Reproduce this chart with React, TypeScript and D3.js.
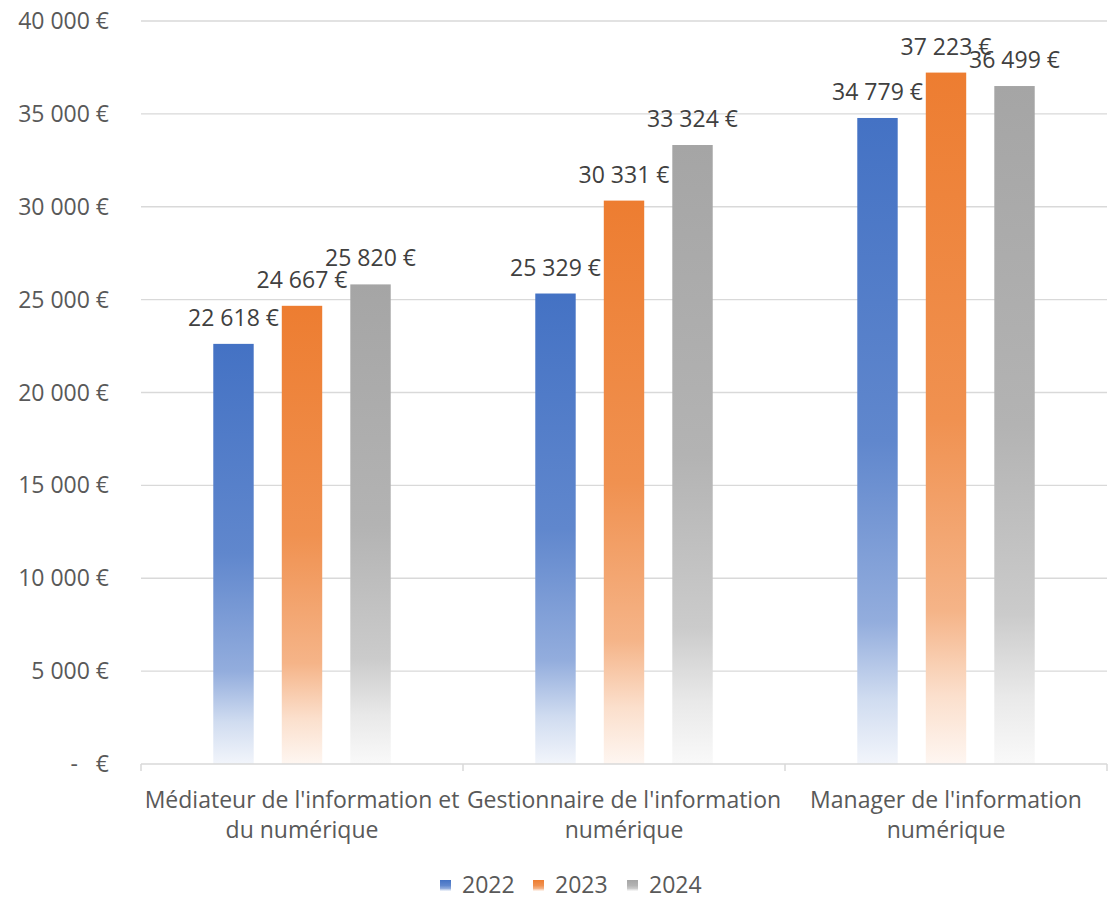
import React from "react";
import * as d3 from "d3";

const categories = [
  "Médiateur de l'information et du numérique",
  "Gestionnaire de l'information numérique",
  "Manager de l'information numérique",
];
const categoryLines = [
  ["Médiateur de l'information et", "du numérique"],
  ["Gestionnaire de l'information", "numérique"],
  ["Manager de l'information", "numérique"],
];
const years = ["2022", "2023", "2024"];
const values2022 = [22618, 25329, 34779];
const values2023 = [24667, 30331, 37223];
const values2024 = [25820, 33324, 36499];
const yTicks = [0, 5000, 10000, 15000, 20000, 25000, 30000, 35000, 40000];
const colors = ["#4472C4", "#ED7D31", "#A5A5A5"];

const series = [values2022, values2023, values2024];

const fr = d3.formatLocale({ decimal: ",", thousands: " ", grouping: [3], currency: ["", " €"] });
const fmt = fr.format(",.0f");
const money = (v: number) => (v === 0 ? "-   €" : fmt(v) + " €");

export default function App() {
  const W = 1113, H = 899;
  const left = 141, right = 1107, top = 21, bottom = 764;
  const y = d3.scaleLinear().domain([0, 40000]).range([bottom, top]);
  const x0 = d3.scaleBand().domain(categories).range([left, right]).paddingInner(0).paddingOuter(0);
  const x1 = d3.scaleBand().domain(years).range([0, x0.bandwidth()]).paddingInner(0.41).paddingOuter(1.055);
  const font = "'Open Sans', 'Noto Sans', sans-serif";
  const fs = 23;
  const legendX = [440, 533, 627];

  return (
    <svg width={W} height={H} style={{ position: "absolute", left: 0, top: 0, background: "#fff" }}>
      <defs>
        {colors.map((c, i) => {
          const white = d3.interpolateRgb(c, "#ffffff");
          return (
            <linearGradient key={i} id={`g${i}`} x1="0" y1="0" x2="0" y2="1">
              <stop offset="0" stopColor={c} />
              <stop offset="0.5" stopColor={white(0.15)} />
              <stop offset="0.78" stopColor={white(0.42)} />
              <stop offset="0.9" stopColor={white(0.75)} />
              <stop offset="1" stopColor={white(0.93)} />
            </linearGradient>
          );
        })}
      </defs>
      {yTicks.map((t) => (
        <g key={t}>
          {t > 0 && <line x1={left} x2={right} y1={y(t)} y2={y(t)} stroke="#D9D9D9" strokeWidth={1.3} />}
          <text x={109} y={y(t)} dy="0.35em" textAnchor="end" fontFamily={font} fontSize={fs} fill="#595959" style={{ whiteSpace: "pre" }}>
            {money(t)}
          </text>
        </g>
      ))}
      {categories.map((cat, ci) =>
        series.map((vals, si) => {
          const bx = (x0(cat) as number) + (x1(years[si]) as number);
          const v = vals[ci];
          return (
            <g key={`${ci}-${si}`}>
              <rect x={bx} y={y(v)} width={x1.bandwidth()} height={bottom - y(v)} fill={`url(#g${si})`} />
              <text x={bx + x1.bandwidth() / 2} y={y(v) - 18} textAnchor="middle" fontFamily={font} fontSize={fs} fill="#404040">
                {money(v)}
              </text>
            </g>
          );
        })
      )}
      <line x1={left} x2={right} y1={bottom} y2={bottom} stroke="#D9D9D9" strokeWidth={1.5} />
      {[...categories.map((c) => x0(c) as number), right].map((tx, i) => (
        <line key={i} x1={tx} x2={tx} y1={bottom} y2={bottom + 7} stroke="#D9D9D9" strokeWidth={1.5} />
      ))}
      {categories.map((cat, ci) => (
        <text key={cat} x={(x0(cat) as number) + x0.bandwidth() / 2} textAnchor="middle" fontFamily={font} fontSize={fs} fill="#595959">
          {categoryLines[ci].map((ln, li) => (
            <tspan key={li} x={(x0(cat) as number) + x0.bandwidth() / 2} y={808 + li * 30}>
              {ln}
            </tspan>
          ))}
        </text>
      ))}
      {years.map((yr, i) => (
        <g key={yr}>
          <rect x={legendX[i]} y={880} width={11} height={11} fill={`url(#g${i})`} />
          <text x={legendX[i] + 22} y={885} dy="0.35em" fontFamily={font} fontSize={fs} fill="#595959">
            {yr}
          </text>
        </g>
      ))}
    </svg>
  );
}
